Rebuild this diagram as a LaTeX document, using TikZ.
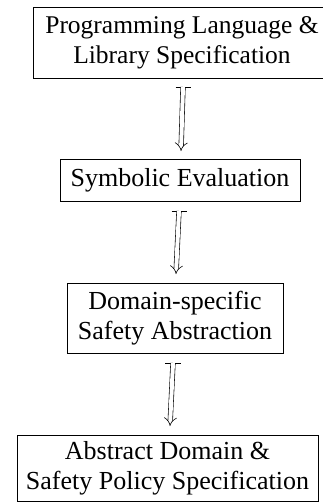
\documentclass[tikz,border=0pt]{standalone}
\usepackage{fontspec}
\setmainfont{Liberation Serif}
\usetikzlibrary{arrows.meta}
\begin{document}
\begin{tikzpicture}[x=1pt,y=-1pt,
  box/.style={draw,line width=0.8pt,inner sep=0pt,align=center,
    font=\fontsize{26}{30}\selectfont},
  dbl/.style={double,double distance=4pt,line width=0.6pt,-{Implies}},
  topbar/.style={line width=0.9pt}]
\useasboundingbox (0,0) rectangle (322,504);
\node[box,minimum width=298pt,minimum height=71pt,font=\fontsize{25.5}{30}\selectfont] (a) at (182,42.5) {Programming Language \&\\Library Specification};
\node[box,minimum width=240pt,minimum height=42pt] (b) at (180,180) {Symbolic Evaluation};
\node[box,minimum width=216pt,minimum height=70pt] (c) at (175,318) {Domain-specific\\Safety Abstraction};
\node[box,minimum width=301pt,minimum height=66pt] (d) at (167.5,468) {Abstract Domain \&\\Safety Policy Specification};
% arrow a -> b
\coordinate (a1) at (183,87);
\coordinate (b1) at (181,151);
\draw[topbar] ([xshift=-7.5pt]a1) -- ([xshift=7.5pt]a1);
\draw[dbl] (a1) -- (b1);
% arrow b -> c
\coordinate (b2) at (179,211);
\coordinate (c1) at (176,274);
\draw[topbar] ([xshift=-7.5pt]b2) -- ([xshift=7.5pt]b2);
\draw[dbl] (b2) -- (c1);
% arrow c -> d
\coordinate (c2) at (173,363);
\coordinate (d1) at (170,426);
\draw[topbar] ([xshift=-8pt]c2) -- ([xshift=8pt]c2);
\draw[dbl] (c2) -- (d1);
\end{tikzpicture}
\end{document}
